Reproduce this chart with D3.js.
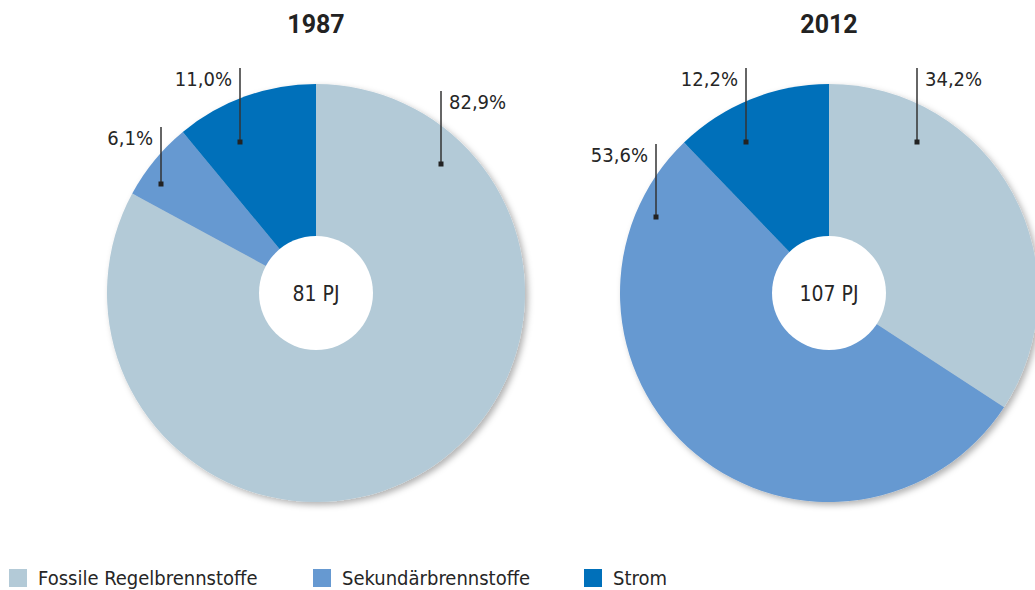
<!DOCTYPE html>
<html>
<head>
<meta charset="utf-8">
<script src="https://cdn.jsdelivr.net/npm/d3@7"></script>
<style>
  body { margin: 0; background: #fff; }
  svg { display: block; }
  .lbl { font-family: "Liberation Sans Narrow", "DejaVu Sans Condensed", sans-serif; fill: #262626; }
</style>
</head>
<body>
<div id="chart"></div>
<script>
// data
var years = ["1987", "2012"];
var totals = [81, 107];
var categories = ["Fossile Regelbrennstoffe", "Sekundärbrennstoffe", "Strom"];
var colors = ["#b3cad7", "#6699d1", "#0070ba"];
var shares1987 = [82.9, 6.1, 11.0];
var shares2012 = [34.2, 53.6, 12.2];
var shares = [shares1987, shares2012];

// leader line placement (offset of the marker from the pie centre, line length, text side)
var labelLayout = [
  [{dx: 125, dy: -129, len: 73, side: "right"},
   {dx: -155, dy: -109, len: 57, side: "left"},
   {dx: -76, dy: -151, len: 74, side: "left"}],
  [{dx: 88, dy: -151, len: 74, side: "right"},
   {dx: -173, dy: -76, len: 73, side: "left"},
   {dx: -83, dy: -151, len: 74, side: "left"}]
];

var width = 1035, height = 590;
var radius = 209, hole = 57;
var centersX = [316, 829], centerY = 293;

var fmt = function(v) { return v.toFixed(1).replace(".", ",") + "%"; };

var svg = d3.select("#chart").append("svg")
    .attr("width", width)
    .attr("height", height);

var defs = svg.append("defs");
var shadow = defs.append("filter")
    .attr("id", "shadow")
    .attr("x", "-10%").attr("y", "-10%")
    .attr("width", "130%").attr("height", "130%");
shadow.append("feDropShadow")
    .attr("dx", 3).attr("dy", 3)
    .attr("stdDeviation", 3)
    .attr("flood-color", "#000")
    .attr("flood-opacity", 0.3);

var pie = d3.pie().sort(null).value(d => d);
var arc = d3.arc().innerRadius(0).outerRadius(radius);

years.forEach(function(year, i) {
  var g = svg.append("g")
      .attr("transform", "translate(" + centersX[i] + "," + centerY + ")");

  svg.append("text")
      .attr("x", centersX[i])
      .attr("y", 33)
      .attr("text-anchor", "middle")
      .style("font-family", "Roboto, 'Liberation Sans', sans-serif")
      .style("font-weight", "bold")
      .style("font-size", "25px")
      .style("fill", "#222")
      .text(year);

  var slices = g.append("g").attr("filter", "url(#shadow)");
  slices.selectAll("path")
      .data(pie(shares[i]))
      .enter()
      .append("path")
      .attr("d", arc)
      .attr("fill", (d, j) => colors[j]);

  g.append("circle")
      .attr("r", hole)
      .attr("fill", "#fff");

  g.append("text")
      .attr("class", "lbl")
      .attr("y", 8)
      .attr("text-anchor", "middle")
      .style("font-size", "21px")
      .text(totals[i] + " PJ");

  var labels = g.selectAll(".pctLabel")
      .data(shares[i])
      .enter()
      .append("g")
      .attr("class", "pctLabel")
      .attr("transform", (d, j) => "translate(" + labelLayout[i][j].dx + "," + labelLayout[i][j].dy + ")");

  labels.append("line")
      .attr("x1", 0).attr("x2", 0)
      .attr("y1", 0)
      .attr("y2", (d, j) => -labelLayout[i][j].len)
      .style("stroke", "#333")
      .style("stroke-width", 1.5);

  labels.append("rect")
      .attr("x", -2.5).attr("y", -2.5)
      .attr("width", 5).attr("height", 5)
      .attr("fill", "#222");

  labels.append("text")
      .attr("class", "lbl")
      .attr("x", (d, j) => labelLayout[i][j].side == "right" ? 8 : -8)
      .attr("y", (d, j) => -labelLayout[i][j].len + 18)
      .attr("text-anchor", (d, j) => labelLayout[i][j].side == "right" ? "start" : "end")
      .style("font-size", "20px")
      .text(d => fmt(d));
});

// legend
var legendX = [9, 313, 584];
var legend = svg.selectAll(".legendItem")
    .data(categories)
    .enter()
    .append("g")
    .attr("class", "legendItem")
    .attr("transform", (d, i) => "translate(" + legendX[i] + ",569)");

legend.append("rect")
    .attr("width", 18)
    .attr("height", 18)
    .attr("fill", (d, i) => colors[i]);

legend.append("text")
    .attr("class", "lbl")
    .attr("x", 29)
    .attr("y", 16)
    .style("font-size", "20px")
    .text(d => d);
</script>
</body>
</html>
